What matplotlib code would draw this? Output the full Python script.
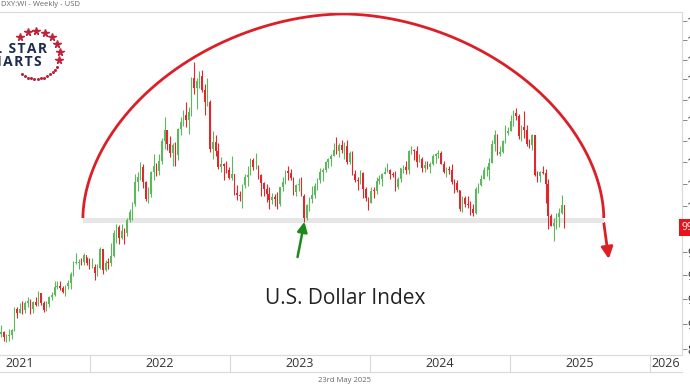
"""
U.S. Dollar Index (DXY) weekly candles with a rounded-top arc
"""

import numpy as np
import pandas as pd
import matplotlib
matplotlib.use('Agg')
import matplotlib.pyplot as plt
import matplotlib.dates as mdates
import matplotlib.transforms as mtransforms

plt.rcParams['font.family'] = ['Open Sans', 'DejaVu Sans']

# weekly bars, Friday closes, first week ends 7 May 2021
first_open = 91.28

close_2021 = [90.22, 90.32, 89.99, 90.03, 90.13, 90.55, 92.23, 91.85, 92.23, 92.12,
              92.68, 92.90, 92.17, 92.80, 92.52, 93.50, 92.68, 92.13, 92.58, 93.20,
              93.33, 94.04, 94.07, 93.96, 93.64, 94.12, 94.32, 95.13, 96.03, 96.08,
              96.16, 96.10, 96.69, 96.02, 95.67]
high_2021 = [91.43, 90.91, 90.41, 90.20, 90.63, 90.61, 92.41, 92.41, 92.74, 92.83,
             92.83, 93.19, 93.03, 92.87, 93.20, 93.73, 93.56, 92.87, 92.85, 93.31,
             93.58, 94.50, 94.56, 94.54, 94.07, 94.17, 94.63, 95.26, 96.25, 96.94,
             96.39, 96.45, 96.91, 96.59, 96.43]
low_2021 = [90.20, 89.98, 89.65, 89.53, 89.66, 89.79, 90.42, 91.51, 91.85, 91.78,
            91.91, 92.38, 91.78, 91.92, 92.43, 92.47, 92.56, 91.94, 92.03, 92.35,
            92.97, 93.26, 93.83, 93.76, 93.50, 93.28, 93.87, 93.87, 94.95, 95.96,
            95.52, 95.90, 95.86, 95.88, 95.57]

close_2022 = [95.74, 95.17, 95.64, 97.27, 95.48, 96.05, 96.04, 96.62, 98.66, 99.13,
              98.23, 98.79, 98.63, 99.79, 100.52, 101.18, 103.20, 103.66, 104.56, 103.19,
              101.67, 102.14, 104.15, 104.67, 104.19, 105.13, 107.01, 108.07, 106.73, 105.90,
              106.61, 105.64, 108.16, 108.82, 109.53, 109.00, 109.75, 113.19, 112.12, 112.80,
              113.30, 111.98, 110.75, 110.78, 106.29, 106.93, 106.04, 104.57, 104.82, 104.70,
              104.32, 103.52]
high_2022 = [96.47, 96.00, 95.96, 97.44, 97.14, 96.27, 96.44, 97.74, 98.93, 99.42,
             99.29, 99.42, 99.08, 99.91, 100.76, 101.34, 103.93, 104.07, 105.01, 104.87,
             103.31, 102.74, 104.24, 105.79, 104.91, 105.79, 107.27, 109.29, 108.01, 107.43,
             106.80, 106.93, 108.23, 109.30, 109.99, 110.79, 110.23, 113.26, 114.78, 113.15,
             113.87, 113.95, 112.52, 113.15, 110.92, 107.99, 107.57, 106.83, 105.52, 104.96,
             105.08, 104.55]
low_2022 = [95.63, 94.63, 94.92, 95.52, 95.14, 95.36, 95.53, 95.78, 96.53, 97.72,
            97.71, 98.07, 97.69, 98.35, 99.57, 99.81, 101.01, 102.35, 103.36, 102.65,
            101.43, 101.30, 101.86, 103.41, 103.70, 103.84, 104.86, 106.27, 106.11, 105.54,
            104.63, 104.64, 105.20, 107.54, 108.40, 108.35, 107.68, 109.37, 111.57, 110.06,
            112.16, 111.77, 109.53, 110.33, 106.00, 105.34, 105.61, 104.37, 104.12, 103.40,
            103.97, 103.42]

close_2023 = [103.89, 102.20, 102.01, 101.92, 102.92, 103.63, 103.87, 105.21, 104.52, 104.58,
              103.86, 103.12, 102.51, 102.10, 101.55, 101.79, 101.66, 101.21, 102.70, 103.20,
              104.21, 104.01, 103.56, 102.26, 102.91, 102.91, 101.96, 99.91, 101.07, 101.62,
              102.02, 102.85, 103.38, 104.08, 104.28, 105.06, 105.32, 105.58, 106.17, 106.04,
              106.65, 106.16, 106.56, 105.02, 105.85, 103.92, 103.41, 103.27, 104.00, 102.57,
              101.72, 101.33]
high_2023 = [105.63, 103.95, 102.90, 102.39, 103.01, 103.96, 104.67, 105.36, 105.36, 105.88,
             104.71, 103.89, 103.21, 102.96, 102.76, 102.18, 102.08, 102.28, 102.75, 103.62,
             104.31, 104.70, 104.40, 103.67, 103.02, 103.54, 103.61, 102.08, 101.19, 101.84,
             102.84, 103.07, 103.58, 104.44, 104.44, 105.16, 105.43, 105.78, 106.84, 107.35,
             106.80, 107.10, 106.89, 107.11, 106.05, 106.03, 104.27, 103.61, 104.26, 104.10,
             102.74, 101.78]
low_2023 = [103.40, 101.99, 101.53, 101.50, 100.82, 102.64, 102.84, 103.80, 104.27, 104.36,
            103.45, 101.91, 101.92, 101.41, 100.79, 101.19, 101.03, 100.79, 101.01, 102.39,
            102.98, 103.35, 103.35, 102.02, 101.92, 102.38, 101.89, 99.58, 99.75, 100.55,
            101.28, 101.73, 102.49, 103.09, 103.29, 104.12, 104.49, 104.68, 105.56, 105.80,
            105.53, 105.90, 105.35, 104.85, 104.85, 103.79, 103.17, 102.46, 102.98, 101.77,
            101.42, 100.62]

close_2024 = [102.41, 102.40, 103.29, 103.43, 103.92, 104.11, 104.28, 103.94, 103.86, 102.71,
              103.43, 104.43, 104.55, 104.30, 106.04, 106.15, 106.08, 105.03, 105.30, 104.45,
              104.72, 104.61, 104.89, 105.55, 105.80, 105.87, 104.88, 104.09, 104.39, 104.33,
              103.21, 103.14, 102.46, 100.72, 101.70, 101.18, 101.10, 100.72, 100.38, 102.54,
              102.90, 103.49, 104.26, 104.28, 104.95, 106.68, 107.55, 105.74, 105.99, 107.00,
              107.80, 108.00]
high_2024 = [102.73, 102.76, 103.69, 103.82, 104.05, 104.60, 104.97, 104.37, 104.12, 104.16,
             103.66, 104.49, 104.72, 105.09, 106.12, 106.52, 106.22, 106.49, 105.74, 105.47,
             105.12, 105.13, 104.99, 105.79, 105.91, 106.13, 106.09, 105.09, 104.52, 104.69,
             104.80, 103.49, 103.36, 102.49, 101.94, 101.91, 101.89, 101.48, 101.22, 102.69,
             103.07, 103.84, 104.57, 104.63, 105.44, 107.07, 108.09, 107.67, 106.54, 107.05,
             108.54, 108.34]
low_2024 = [101.33, 101.75, 102.09, 103.01, 102.82, 103.88, 104.06, 103.44, 103.62, 102.33,
            102.57, 103.19, 104.02, 103.88, 103.93, 105.74, 105.24, 104.52, 104.99, 104.08,
            104.09, 104.37, 103.99, 104.77, 104.97, 105.42, 104.81, 103.97, 103.65, 103.93,
            102.97, 102.15, 102.29, 100.53, 100.51, 100.97, 100.84, 100.22, 100.16, 100.28,
            102.23, 102.82, 103.44, 103.77, 103.37, 104.97, 106.06, 105.66, 105.58, 105.86,
            106.83, 107.61]

close_2025 = [108.95, 109.65, 109.35, 107.44, 108.37, 108.04, 106.71, 106.62, 107.56, 103.84,
              103.72, 104.09, 104.04, 103.02, 100.10, 99.23, 99.47, 100.03, 100.42, 101.09,
              99.11]
high_2025 = [109.54, 109.97, 110.18, 109.61, 108.52, 109.88, 108.52, 107.21, 107.62, 107.58,
             104.21, 104.17, 104.68, 104.37, 103.42, 100.27, 99.92, 100.38, 100.86, 101.98,
             101.07]
low_2025 = [107.96, 108.48, 108.99, 107.19, 106.96, 107.33, 106.56, 106.36, 106.12, 103.71,
            103.21, 103.19, 103.95, 101.26, 99.01, 99.20, 97.92, 98.98, 99.17, 100.33,
            99.05]

years = [2021, 2022, 2023, 2024, 2025, 2026]
price_ticks = [89, 91, 93, 95, 97, 99, 101, 103, 105, 107, 109, 111, 113, 115, 117, 119]
last_price = 99.11

# support zone and arc anchors
band_low, band_high = 99.52, 99.95
band_start, band_end = '2021-12-14', '2025-09-03'
arc_top_price = 119.74
green_tail = ('2023-06-27', 96.55)
green_tip = ('2023-07-15', 99.62)
red_tail = ('2025-09-03', 99.50)
red_tip = ('2025-09-16', 96.39)

UP = '#5cb85c'
DOWN = '#e3262b'
ARC = '#dc1f26'
GRID = '#d9d9d9'


def build_frame():
    closes = close_2021 + close_2022 + close_2023 + close_2024 + close_2025
    highs = high_2021 + high_2022 + high_2023 + high_2024 + high_2025
    lows = low_2021 + low_2022 + low_2023 + low_2024 + low_2025
    assert len(closes) == len(highs) == len(lows)
    df = pd.DataFrame({'close': closes, 'high': highs, 'low': lows},
                      index=pd.date_range('2021-05-07', periods=len(closes), freq='W-FRI'))
    df['open'] = [first_open] + closes[:-1]
    return df


def dnum(s):
    return mdates.date2num(pd.Timestamp(s))


df = build_frame()

fig = plt.figure(figsize=(6.9, 3.88), dpi=100)
ax = fig.add_axes([0.0, 1 - 355 / 388, 682 / 690, 343 / 388])

ax.set_yscale('log')
ax.set_ylim(88.53, 119.95)
x0 = dnum('2022-01-01')
ax.set_xlim(x0 - 89.8 / 140 * 365.25, x0 + 592.2 / 140 * 365.25)

# candles
x = mdates.date2num(df.index)
up = (df['close'] >= df['open']).values
colors = np.where(up, UP, DOWN)
ax.vlines(x, df['low'], df['high'], colors=colors, lw=0.8, zorder=4)
bottoms = np.minimum(df['open'], df['close']).values
heights = np.maximum(np.abs(df['close'] - df['open']).values, 0.06)
ax.bar(x, heights, bottom=bottoms, width=3.8, color=colors, lw=0, zorder=5)

# grey support band
ax.fill_between([dnum(band_start), dnum(band_end)], band_low, band_high,
                color='#e6e6e6', lw=0, zorder=3)

# rounded top arc, built in pixel space so it stays round on the log axis
xl, yb = ax.transData.transform((dnum(band_start), band_high))
xr, _ = ax.transData.transform((dnum(band_end), band_high))
_, yt = ax.transData.transform((dnum(band_start), arc_top_price))
cx, a, b = (xl + xr) / 2, (xr - xl) / 2, yt - yb
t = np.linspace(0, np.pi, 400)
n = 1.85
ex = cx + a * np.sign(np.cos(t)) * np.abs(np.cos(t)) ** (2 / n)
ey = yb + b * np.sin(t) ** (2 / n)
arc = ax.transData.inverted().transform(np.column_stack([ex, ey]))
ax.plot(arc[:, 0], arc[:, 1], color=ARC, lw=2.0, zorder=2, solid_capstyle='butt')

ax.annotate('', xy=(dnum(red_tip[0]), red_tip[1]), xytext=(dnum(red_tail[0]), red_tail[1]),
            arrowprops=dict(arrowstyle='-|>,head_length=0.7,head_width=0.35',
                            color=ARC, lw=2.0, shrinkA=0, shrinkB=0), zorder=2)
ax.annotate('', xy=(dnum(green_tip[0]), green_tip[1]),
            xytext=(dnum(green_tail[0]), green_tail[1]),
            arrowprops=dict(arrowstyle='-|>,head_length=0.6,head_width=0.3',
                            color='#1b8a1b', lw=1.8, shrinkA=0, shrinkB=0), zorder=6)

ax.text(0.506, 0.166, 'U.S. Dollar Index', transform=ax.transAxes,
        ha='center', va='center', fontsize=15, color='#222222')

# right price axis, labels mostly run off the edge like the original
ax.yaxis.tick_right()
ax.yaxis.set_major_locator(plt.FixedLocator(price_ticks))
ax.yaxis.set_minor_locator(plt.NullLocator())
ax.set_yticklabels(['' if p == 99 else str(p) for p in price_ticks])
ax.tick_params(axis='y', length=3.5, width=0.7, color='#888888', pad=0.3,
               labelsize=9, labelcolor='#333333')
ax.set_xticks([])
ax.spines['left'].set_visible(False)
for s in ['top', 'right', 'bottom']:
    ax.spines[s].set_color(GRID)
    ax.spines[s].set_linewidth(0.8)

ax.text(1.0, last_price, f'{last_price:.2f}',
        transform=mtransforms.blended_transform_factory(ax.transAxes, ax.transData),
        ha='left', va='center', fontsize=7.5, color='white', zorder=10,
        bbox=dict(boxstyle='square,pad=0.25', fc='#e8121a', ec='none'), clip_on=False)

# year strip under the plot
strip = mtransforms.blended_transform_factory(ax.transData, ax.transAxes)
xmax = ax.get_xlim()[1]
for yr in years:
    xb = dnum(f'{yr}-01-01')
    if xb < xmax:
        ax.plot([xb, xb], [0, -0.05], transform=strip, color=GRID, lw=0.8, clip_on=False)
    mid = dnum(f'{yr}-07-02')
    if mid < xmax - 8:
        ax.text(mid, -0.025, str(yr), transform=strip, ha='center', va='center',
                fontsize=9, color='#333333')
    else:
        ax.text(xmax - 4, -0.025, str(yr), transform=strip, ha='right', va='center',
                fontsize=9, color='#333333')
ax.plot([0, 1], [-0.05, -0.05], transform=ax.transAxes, color=GRID, lw=0.8, clip_on=False)

fig.text(1 / 690, 1 - 5 / 388, 'DXY:WI - Weekly - USD', fontsize=5.5, color='#666666',
         ha='left', va='center')
fig.text(345 / 690, 1 - 381 / 388, '23rd May 2025', fontsize=5.5, color='#666666',
         ha='center', va='center')

# logo
NAVY = '#1d2b4f'
STAR_RED = '#c0223a'
sp = '\u200a'
fig.text(47 / 690, 1 - 49 / 388, sp.join('ALL STAR'), fontsize=10, weight='bold',
         color=NAVY, ha='right', va='center')
fig.text(42 / 690, 1 - 62 / 388, sp.join('CHARTS'), fontsize=10, weight='bold',
         color=NAVY, ha='right', va='center')
cxl, cyl, r = 36, 55, 24
for ang in [131, 110, 89, 68, 47, 28, 8, -12]:
    th = np.radians(ang)
    fig.lines.append(plt.Line2D([(cxl + r * np.cos(th)) / 690], [1 - (cyl - r * np.sin(th)) / 388],
                                marker='*', ms=5.5, color=STAR_RED, lw=0,
                                transform=fig.transFigure))
for ang in range(-30, -130, -8):
    th = np.radians(ang)
    fig.lines.append(plt.Line2D([(cxl + r * np.cos(th)) / 690], [1 - (cyl - r * np.sin(th)) / 388],
                                marker='o', ms=1.2, color=STAR_RED, lw=0,
                                transform=fig.transFigure))

fig.savefig('out.png', dpi=100)
